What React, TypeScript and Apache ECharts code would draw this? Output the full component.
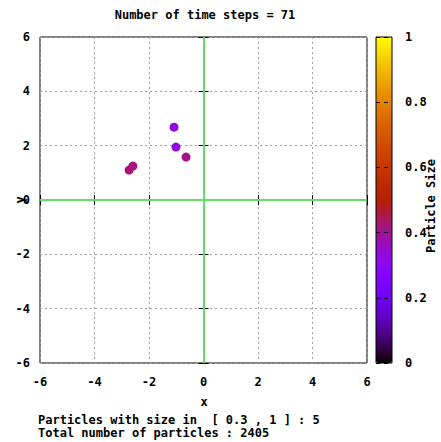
import React, { useEffect, useRef } from "react";
import * as echarts from "echarts";

const titleText = "Number of time steps = 71";
const footerLines = [
  "Particles with size in  [ 0.3 , 1 ] : 5",
  "Total number of particles : 2405",
];
// particle positions and sizes
const particleX = [-1.08, -1.01, -0.64, -2.59, -2.73];
const particleY = [2.68, 1.95, 1.58, 1.25, 1.1];
const particleSize = [0.32, 0.33, 0.41, 0.42, 0.42];

const axisMin = -6;
const axisMax = 6;
const axisStep = 2;
const cbMin = 0;
const cbMax = 1;
const cbStep = 0.2;

const FONT = "DejaVu Sans Mono";

function paletteStops(n: number): string[] {
  const out: string[] = [];
  for (let i = 0; i <= n; i++) {
    const t = i / n;
    const r = Math.sqrt(t);
    const g = t * t * t;
    const b = Math.max(0, Math.sin(2 * Math.PI * t));
    const h = (v: number) =>
      Math.round(Math.min(1, Math.max(0, v)) * 255)
        .toString(16)
        .padStart(2, "0");
    out.push("#" + h(r) + h(g) + h(b));
  }
  return out;
}

export default function App() {
  const ref = useRef<HTMLDivElement>(null);
  useEffect(() => {
    if (!ref.current) return;
    const chart = echarts.init(ref.current, undefined, { renderer: "svg" });
    const data = particleX.map((x, i) => [x, particleY[i], particleSize[i]]);
    const labelStyle = {
      fontFamily: FONT,
      fontWeight: "bold" as const,
      fontSize: 12,
      color: "#000",
    };
    const mainSplit = {
      show: true,
      lineStyle: { color: "#a0a0a0", type: [2, 3] as any, width: 1 },
    };
    const tick = { show: true, inside: true, length: 5, lineStyle: { color: "#000" } };
    const font = `bold 12px "${FONT}"`;
    chart.setOption({
      animation: false,
      backgroundColor: "#fff",
      textStyle: { fontFamily: FONT },
      title: {
        text: titleText,
        left: 205,
        textAlign: "center",
        top: 9,
        padding: 0,
        textStyle: { ...labelStyle },
      },
      grid: [
        {
          left: 40,
          top: 37,
          width: 327,
          height: 326,
          show: true,
          borderColor: "#000",
          borderWidth: 1,
          containLabel: false,
          outerBoundsMode: "none",
        },
        {
          left: 376,
          top: 37,
          width: 16,
          height: 326,
          show: true,
          borderColor: "#000",
          borderWidth: 1,
          backgroundColor: "transparent",
          containLabel: false,
          outerBoundsMode: "none",
          z: 10,
        },
      ],
      xAxis: [
        {
          gridIndex: 0,
          type: "value",
          min: axisMin,
          max: axisMax,
          interval: axisStep,
          position: "bottom",
          axisLine: { show: false },
          axisTick: tick,
          axisLabel: { ...labelStyle, margin: 13 },
          splitLine: mainSplit,
        },
        {
          gridIndex: 0,
          type: "value",
          min: axisMin,
          max: axisMax,
          interval: axisStep,
          position: "top",
          axisLine: { show: false },
          axisTick: tick,
          axisLabel: { show: false },
          splitLine: { show: false },
        },
        {
          gridIndex: 1,
          type: "value",
          min: 0,
          max: 1,
          show: false,
        },
      ],
      yAxis: [
        {
          gridIndex: 0,
          type: "value",
          min: axisMin,
          max: axisMax,
          interval: axisStep,
          position: "left",
          axisLine: { show: false },
          axisTick: tick,
          axisLabel: { ...labelStyle, margin: 10 },
          splitLine: mainSplit,
        },
        {
          gridIndex: 0,
          type: "value",
          min: axisMin,
          max: axisMax,
          interval: axisStep,
          position: "right",
          axisLine: { show: false },
          axisTick: tick,
          axisLabel: { show: false },
          splitLine: { show: false },
        },
        {
          gridIndex: 1,
          type: "value",
          min: cbMin,
          max: cbMax,
          interval: cbStep,
          position: "right",
          z: 10,
          axisLine: { show: false },
          axisTick: { show: false },
          axisLabel: {
            ...labelStyle,
            margin: 13,
            formatter: (v: number) => (v === 0 || v === 1 ? String(v) : v.toFixed(1)),
          },
          splitLine: {
            show: true,
            lineStyle: { color: "#000", type: [4, 4] as any, width: 1 },
          },
        },
      ],
      visualMap: {
        type: "continuous",
        dimension: 2,
        min: cbMin,
        max: cbMax,
        seriesIndex: 0,
        left: 376,
        top: 37,
        padding: 0,
        itemWidth: 16,
        itemHeight: 326,
        calculable: false,
        realtime: false,
        text: ["", ""],
        showLabel: false,
        inRange: { color: paletteStops(40) },
      },
      graphic: [
        {
          type: "text",
          x: 431,
          y: 206,
          rotation: Math.PI / 2,
          style: { text: "Particle Size", font, fill: "#000", align: "center", verticalAlign: "middle" },
        },
        {
          type: "text",
          x: 20,
          y: 200,
          rotation: Math.PI / 2,
          style: { text: "y", font, fill: "#000", align: "center", verticalAlign: "middle" },
        },
        {
          type: "text",
          x: 204,
          y: 402,
          style: { text: "x", font, fill: "#000", align: "center", verticalAlign: "middle" },
        },
        {
          type: "text",
          x: 38,
          y: 420,
          style: { text: footerLines[0], font, fill: "#000", verticalAlign: "middle" },
        },
        {
          type: "text",
          x: 38,
          y: 433,
          style: { text: footerLines[1], font, fill: "#000", verticalAlign: "middle" },
        },
      ],
      series: [
        {
          type: "scatter",
          xAxisIndex: 0,
          yAxisIndex: 0,
          data,
          symbol: "circle",
          symbolSize: 9,
          itemStyle: { opacity: 1 },
          z: 5,
          markLine: {
            silent: true,
            symbol: "none",
            label: { show: false },
            lineStyle: { color: "#66dd66", type: "solid", width: 2 },
            data: [{ xAxis: 0 }, { yAxis: 0 }],
          },
        },
      ],
    });
    return () => chart.dispose();
  }, []);
  return (
    <div
      ref={ref}
      style={{ position: "fixed", left: 0, top: 0, width: 441, height: 442 }}
    />
  );
}
